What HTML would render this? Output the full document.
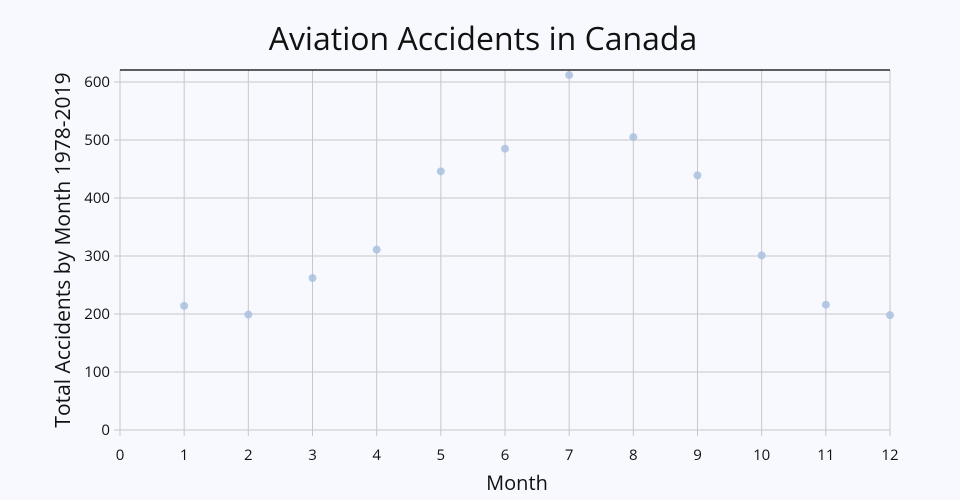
<!DOCTYPE html>
<html><head><meta charset="utf-8"><style>
body{margin:0;background:#f8f9fe;}
svg{display:block;font-family:"Open Sans","Liberation Sans",sans-serif;}
</style></head><body>
<svg id="c" width="960" height="500">
<rect width="960" height="500" fill="#f8f9fe"/>
<text x="483" y="50" text-anchor="middle" font-size="32" fill="#111">Aviation Accidents in Canada</text>
<g id="grid"></g>
<g id="ax"></g>
<g id="pts"></g>
<text x="517" y="490" text-anchor="middle" font-size="20" fill="#111">Month</text>
<text transform="translate(70,250) rotate(-90)" text-anchor="middle" font-size="21" fill="#111">Total Accidents by Month 1978-2019</text>
</svg>
<script>
const months=[1,2,3,4,5,6,7,8,9,10,11,12];
const accidents=[214,199,262,311,446,485,612,505,439,301,216,198];
const xTicks=[0,1,2,3,4,5,6,7,8,9,10,11,12];
const yTicks=[0,100,200,300,400,500,600];
const ns="http://www.w3.org/2000/svg";
const X=v=>120+v*(770/12);
const Y=v=>430-v*0.58;
function mk(p,t,a){const e=document.createElementNS(ns,t);for(const k in a)e.setAttribute(k,a[k]);document.getElementById(p).appendChild(e);return e;}
xTicks.forEach(t=>{
 const l=mk('grid','line',{x1:X(t),x2:X(t),y1:70,y2:436,stroke:'#c8c8c8','stroke-width':1});
 
 
 const tx=mk('ax','text',{x:X(t),y:460,'text-anchor':'middle','font-size':15,fill:'#111'});
 tx.textContent=t;
 
 
});
yTicks.forEach(t=>{
 const l=mk('grid','line',{x1:114,x2:890,y1:Y(t),y2:Y(t),stroke:'#c8c8c8','stroke-width':1});
 
 
 const tx=mk('ax','text',{x:110,y:Y(t)+5,'text-anchor':'end','font-size':15,fill:'#111'});
 tx.textContent=t;
 
 
});
const topBorder=mk('ax','line',{x1:120,x2:890,y1:70,y2:70,stroke:'#000','stroke-width':1.2});


months.forEach((m,i)=>{
 const c=mk('pts','circle',{cx:X(m),cy:Y(accidents[i]),r:4,fill:'#a9c1e0','fill-opacity':0.85});
 
 
});
</script>
</body></html>
